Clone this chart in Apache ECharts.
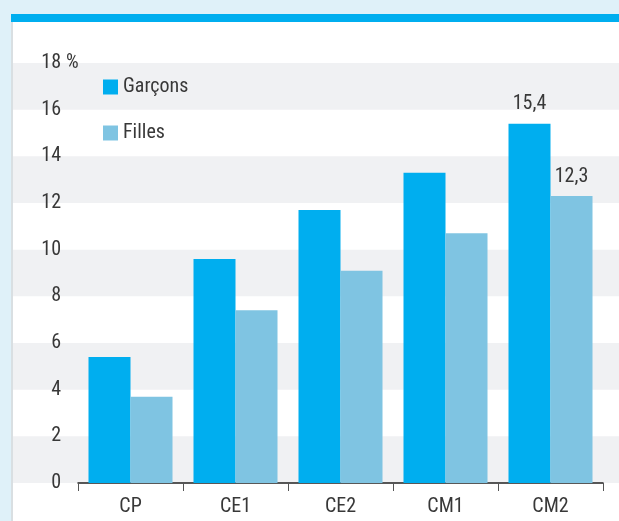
<!DOCTYPE html>
<html><head><meta charset="utf-8">
<script src="https://cdn.jsdelivr.net/npm/echarts@6/dist/echarts.min.js"></script>
<style>
html,body{margin:0;padding:0;width:619px;height:521px;background:#dff1f9;overflow:hidden}
#panel{position:absolute;left:11px;top:14px;width:608px;height:507px;background:#fff;border-left:2px solid #d9dfe2;box-sizing:border-box}
#stripe{position:absolute;left:11px;top:14px;width:608px;height:8px;background:#00aeef}
#c{position:absolute;left:0;top:0;width:619px;height:521px}
</style></head>
<body>
<div id="panel"></div><div id="stripe"></div>
<div id="c"></div>
<script>
const categories = ['CP', 'CE1', 'CE2', 'CM1', 'CM2'];
const garcons = [5.4, 9.6, 11.7, 13.3, 15.4];
const filles = [3.7, 7.4, 9.1, 10.7, 12.3];
const seriesNames = ['Garçons', 'Filles'];
const yMin = 0, yMax = 18, yStep = 2;

const FONT = "'Liberation Sans Narrow', 'Roboto Condensed', 'DejaVu Sans Condensed', sans-serif";
const TXT = '#383838';
const FS = 20;
const fmt = v => String(v).replace('.', ',');
const withLastLabel = arr => arr.map((v, i) => i === arr.length - 1 ? {value: v, label: {show: true}} : v);

const chart = echarts.init(document.getElementById('c'), null, {renderer: 'canvas'});
const option = {
  backgroundColor: 'transparent',
  animation: false,
  textStyle: {fontFamily: FONT},
  grid: [
    {left: 13, right: 0, top: 63, bottom: 38},
    {left: 78, right: 16, top: 63, bottom: 38}
  ],
  legend: {
    orient: 'vertical', left: 103, top: 77, padding: 0, itemWidth: 15, itemHeight: 15, itemGap: 26,
    icon: 'rect', data: seriesNames,
    textStyle: {fontFamily: FONT, fontSize: FS, color: TXT}
  },
  xAxis: [
    {gridIndex: 0, type: 'value', show: false, min: 0, max: 1},
    {gridIndex: 1, type: 'category', data: categories,
     axisLine: {lineStyle: {color: '#222', width: 1.5}},
     axisTick: {show: true, length: 8, lineStyle: {color: '#555'}},
     axisLabel: {fontFamily: FONT, fontSize: FS, color: TXT, margin: 14}}
  ],
  yAxis: [
    {gridIndex: 0, type: 'value', min: yMin, max: yMax, interval: yStep,
     axisLine: {show: false}, axisTick: {show: false}, axisLabel: {show: false},
     splitLine: {show: false},
     splitArea: {show: true, areaStyle: {color: ['#f0f1f3', 'rgba(255,255,255,0)']}}},
    {gridIndex: 1, type: 'value', min: yMin, max: yMax, interval: yStep,
     axisLine: {show: false}, axisTick: {show: false}, splitLine: {show: false},
     axisLabel: {fontFamily: FONT, fontSize: FS, color: TXT, margin: 17}}
  ],
  series: [
    {name: seriesNames[0], type: 'bar', xAxisIndex: 1, yAxisIndex: 1, data: withLastLabel(garcons),
     itemStyle: {color: '#00aeef'}, barGap: '0%', barCategoryGap: '20%',
     label: {show: false, position: 'top', distance: 10, fontFamily: FONT, fontSize: FS, color: TXT, formatter: p => fmt(p.value)}},
    {name: seriesNames[1], type: 'bar', xAxisIndex: 1, yAxisIndex: 1, data: withLastLabel(filles),
     itemStyle: {color: '#7fc4e2'}, barGap: '0%', barCategoryGap: '20%',
     label: {show: false, position: 'top', distance: 9, fontFamily: FONT, fontSize: FS, color: TXT, formatter: p => fmt(p.value)}}
  ]
};
chart.setOption(option);
const yTop = chart.convertToPixel({yAxisIndex: 1}, yMax);
chart.setOption({graphic: [{type: 'text', x: 66, y: yTop,
  style: {text: '%', fontFamily: FONT, fontSize: FS, fill: TXT, verticalAlign: 'middle'}}]});
</script>
</body></html>
